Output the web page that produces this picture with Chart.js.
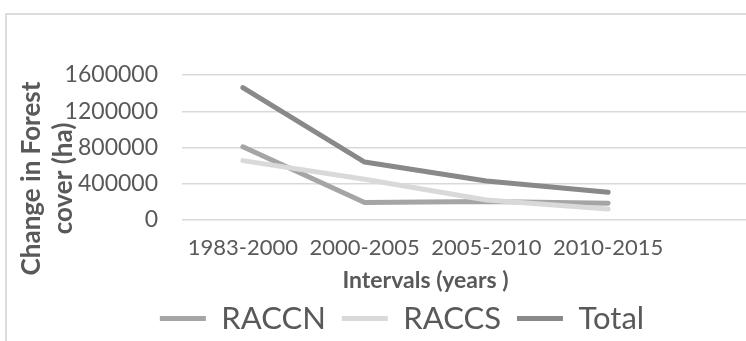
<!DOCTYPE html>
<html><head><meta charset="utf-8">
<script src="https://cdn.jsdelivr.net/npm/chart.js@4.4.1/dist/chart.umd.min.js"></script>
<style>
html,body{margin:0;padding:0;background:#fff;}
#wrap{position:relative;width:746px;height:341px;overflow:hidden;background:#fff;}
#frame{position:absolute;left:5px;top:13px;width:800px;height:400px;border-left:2px solid #dcdcdc;border-top:2px solid #dcdcdc;box-sizing:border-box;}
canvas{position:absolute;left:0;top:0;}
</style></head><body>
<div id="wrap"><div id="frame"></div><canvas id="c" width="746" height="341"></canvas></div>
<script>
// ---- data ----
const categories = ['1983-2000', '2000-2005', '2005-2010', '2010-2015'];
const seriesNames = ['RACCN', 'RACCS', 'Total'];
const raccn = [808000, 194000, 205000, 186000];
const raccs = [655000, 450000, 220000, 121000];
const total = [1461000, 639000, 431000, 307000];
const yTickValues = [0, 400000, 800000, 1200000, 1600000];

// ---- styles ----
const textColor = '#595959';
const gridColor = '#d9d9d9';
const gridWidth = 1.5;
const colors = ['#a5a5a5', '#d9d9d9', '#898989'];
const fontFamily = 'Lato, "Open Sans", sans-serif';
const yTitleShift = 31;

const extendGrid = {
  id: 'extendGrid',
  beforeDatasetsDraw(chart) {
    const ys = chart.scales.y, ctx = chart.ctx, a = chart.chartArea;
    ctx.save();
    ctx.strokeStyle = gridColor;
    ctx.lineWidth = gridWidth;
    ys.ticks.forEach(t => {
      const p = ys.getPixelForValue(t.value);
      const y = Math.round(p - gridWidth / 2) + gridWidth / 2;
      ctx.beginPath();
      ctx.moveTo(a.right, y);
      ctx.lineTo(chart.width, y);
      ctx.stroke();
    });
    ctx.restore();
  }
};

const shiftYTitle = {
  id: 'shiftYTitle',
  beforeDraw(chart) {
    const s = chart.scales.y;
    if (s._titlePatched) return;
    const proto = Object.getPrototypeOf(s);
    s.drawTitle = function () {
      const t = this.top, b = this.bottom;
      this.top = t + yTitleShift; this.bottom = b + yTitleShift;
      proto.drawTitle.call(this);
      this.top = t; this.bottom = b;
    };
    s._titlePatched = true;
  }
};

const datasets = [raccn, raccs, total].map((vals, i) => ({
  label: seriesNames[i],
  data: vals,
  borderColor: colors[i],
  backgroundColor: colors[i],
  borderWidth: 5,
  borderCapStyle: 'round',
  borderJoinStyle: 'round',
  pointRadius: 0,
  pointHoverRadius: 0,
  pointStyle: 'line',
  tension: 0,
  fill: false,
  order: 3 - i
}));

new Chart(document.getElementById('c'), {
  type: 'line',
  data: { labels: categories, datasets },
  plugins: [extendGrid, shiftYTitle],
  options: {
    responsive: false,
    devicePixelRatio: 1,
    animation: false,
    events: [],
    layout: { padding: { left: 58, right: 0, top: 75, bottom: -3 } },
    plugins: {
      tooltip: { enabled: false },
      legend: {
        position: 'bottom',
        labels: {
          usePointStyle: true,
          pointStyle: 'line',
          pointStyleWidth: 46,
          padding: 16,
          color: textColor,
          font: { family: fontFamily, size: 31 },
          sort: (a, b) => a.datasetIndex - b.datasetIndex
        }
      }
    },
    scales: {
      x: {
        type: 'category',
        offset: true,
        grid: { display: false, drawTicks: false },
        border: { display: false },
        ticks: { color: textColor, font: { family: fontFamily, size: 22 }, padding: 15, maxRotation: 0, autoSkip: false },
        title: {
          display: true, text: 'Intervals (years )', color: textColor,
          font: { family: fontFamily, size: 23, weight: 'bold' },
          padding: { top: 0, bottom: -7 }
        },
        afterFit(s) { s.height = 67; s.paddingLeft = 0; s.paddingRight = 0; }
      },
      y: {
        type: 'linear',
        position: 'left',
        min: 0, max: 1600000,
        afterBuildTicks(s) { s.ticks = yTickValues.map(v => ({ value: v })); },
        grid: { color: gridColor, lineWidth: gridWidth, drawTicks: false },
        border: { display: false },
        ticks: { color: textColor, font: { family: fontFamily, size: 23 }, padding: 24, callback: v => String(v) },
        title: {
          display: true, text: ['Change in Forest', 'cover (ha)'], color: textColor,
          font: { family: fontFamily, size: 26, weight: 'bold', lineHeight: 1.23 },
          padding: { top: -42, bottom: 0 }
        },
        afterFit(s) { s.width = 124; }
      },
      y2: {
        type: 'linear',
        position: 'right',
        grid: { display: false, drawTicks: false },
        border: { display: false },
        ticks: { display: false },
        afterFit(s) { s.width = 77; }
      }
    }
  }
});
</script>
</body></html>
